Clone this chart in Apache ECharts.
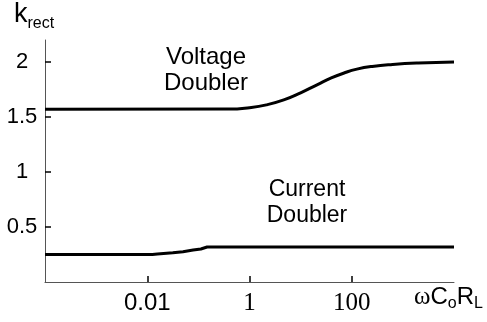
<!DOCTYPE html>
<html>
<head>
<meta charset="utf-8">
<script src="https://cdn.jsdelivr.net/npm/echarts@6/dist/echarts.min.js"></script>
<style>
  html, body { margin: 0; padding: 0; background: #fff; }
  #chart { width: 487px; height: 322px; }
</style>
</head>
<body>
<div id="chart"></div>
<script>
// ωCoRL sample points and rectifier factor k_rect for each topology
const voltageX = [0.0001, 0.398, 1, 2.14, 4.68, 10, 21.4, 39.8, 70.8, 126, 251, 631, 1995, 10000];
const voltageK = [1.571, 1.572, 1.585, 1.61, 1.655, 1.72, 1.795, 1.855, 1.90, 1.935, 1.96, 1.978, 1.991, 2.0];

const currentX = [0.0001, 0.0126, 0.0158, 0.0316, 0.05, 0.079, 0.112, 0.148, 10000];
const currentK = [0.25, 0.25, 0.255, 0.265, 0.275, 0.29, 0.30, 0.318, 0.318];

const xTicks = [0.01, 1, 100];
const yTicks = [0.5, 1, 1.5, 2];

const toPairs = (xs, ys) => xs.map((x, i) => [x, ys[i]]);

const chart = echarts.init(document.getElementById('chart'));

chart.setOption({
  animation: false,
  grid: { left: 45, right: 33, top: 40, bottom: 40 },
  xAxis: {
    type: 'log',
    logBase: 10,
    min: 0.0001,
    max: 10000,
    interval: 2,
    axisLine: { lineStyle: { color: '#555', width: 1 } },
    axisTick: {
      inside: true, length: 6, customValues: xTicks,
      lineStyle: { color: '#000', width: 1.5 }
    },
    splitLine: { show: false },
    axisLabel: {
      margin: 9,
      customValues: xTicks,
      formatter: function (v) {
        const r = Math.round(Math.log10(v));
        if (r === -2) return '{s|0.01}';
        if (r === 0) return '{t|1}';
        if (r === 2) return '{t|100}';
        return '';
      },
      rich: {
        s: { fontFamily: 'Liberation Sans', fontSize: 24, color: '#000' },
        t: { fontFamily: 'Liberation Serif', fontSize: 25, color: '#000' }
      }
    }
  },
  yAxis: {
    type: 'value',
    min: 0,
    max: 2.2,
    interval: 0.5,
    axisLine: { show: true, lineStyle: { color: '#555', width: 1 } },
    axisTick: {
      show: true, inside: true, length: 6, customValues: yTicks,
      lineStyle: { color: '#000', width: 1.5 }
    },
    splitLine: { show: false },
    axisLabel: {
      margin: 23,
      align: 'center',
      customValues: yTicks,
      fontFamily: 'Liberation Sans',
      fontSize: 22,
      color: '#000'
    }
  },
  graphic: [
    {
      type: 'text', left: 14, top: 1,
      style: {
        text: '{k|k}{sub|rect}',
        rich: {
          k: { fontFamily: 'Liberation Sans', fontSize: 27, color: '#000' },
          sub: { fontFamily: 'Liberation Sans', fontSize: 16, color: '#000', padding: [18, 0, 0, 0] }
        }
      }
    },
    {
      type: 'text', left: 414, top: 285,
      style: {
        text: '{w|ω}{c|C}{sub|o}{c|R}{sub|L}',
        rich: {
          w: { fontFamily: 'Liberation Serif', fontSize: 25, color: '#000' },
          c: { fontFamily: 'Liberation Sans', fontSize: 24, color: '#000' },
          sub: { fontFamily: 'Liberation Sans', fontSize: 16, color: '#000', padding: [13, 0, 0, 0] }
        }
      }
    },
    {
      type: 'text', x: 206, y: 44,
      style: {
        text: 'Voltage\nDoubler', align: 'center', lineHeight: 26,
        fontFamily: 'Liberation Sans', fontSize: 24, fill: '#000'
      }
    },
    {
      type: 'text', x: 307, y: 177,
      style: {
        text: 'Current\nDoubler', align: 'center', lineHeight: 26,
        fontFamily: 'Liberation Sans', fontSize: 23, fill: '#000'
      }
    }
  ],
  series: [
    {
      name: 'Voltage Doubler',
      type: 'line',
      data: toPairs(voltageX, voltageK),
      smooth: 0.5,
      showSymbol: false,
      lineStyle: { color: '#000', width: 3 }
    },
    {
      name: 'Current Doubler',
      type: 'line',
      data: toPairs(currentX, currentK),
      smooth: false,
      showSymbol: false,
      lineStyle: { color: '#000', width: 3 }
    }
  ]
});
</script>
</body>
</html>
